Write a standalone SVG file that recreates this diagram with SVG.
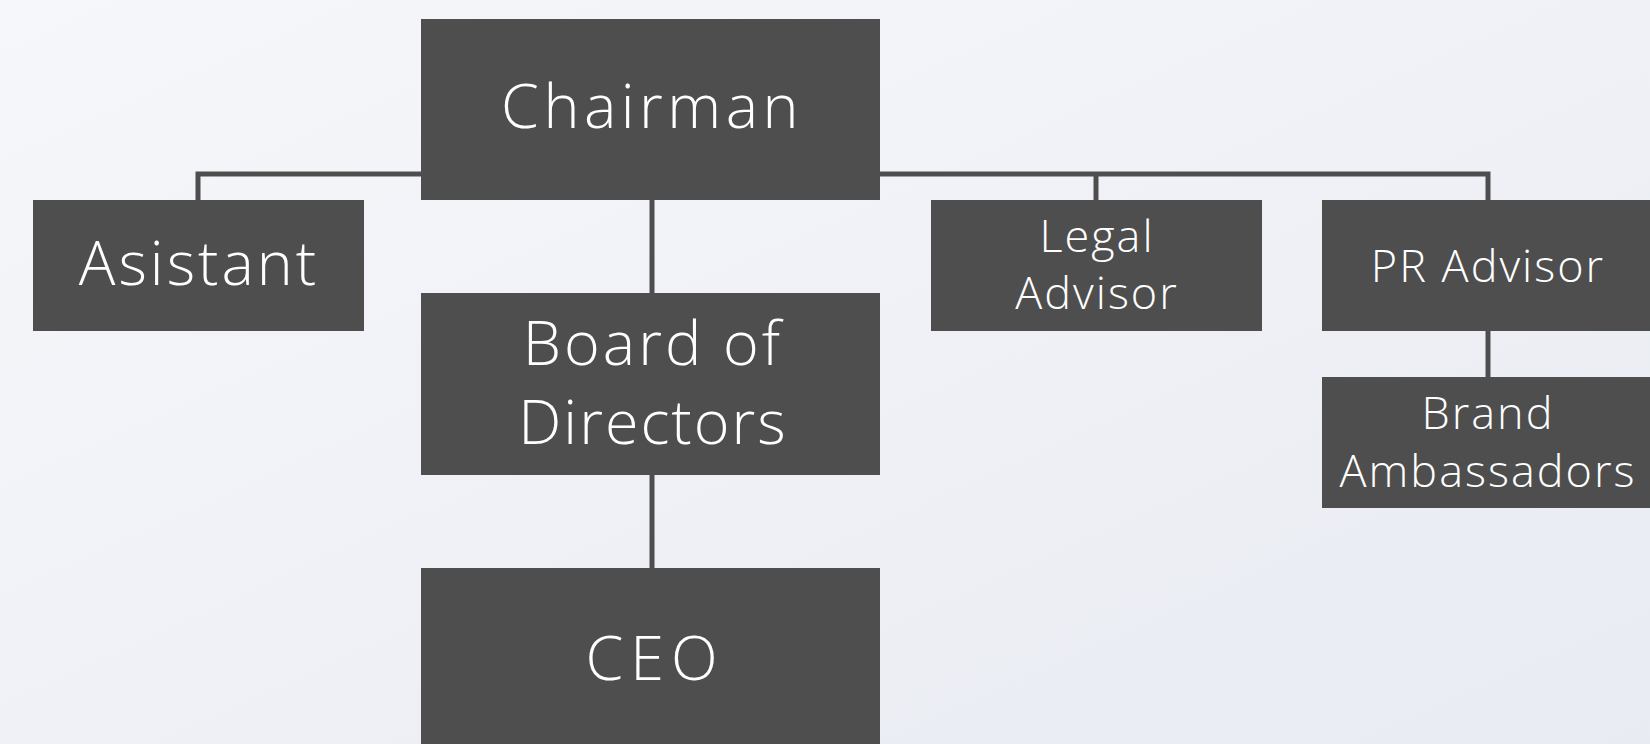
<svg xmlns="http://www.w3.org/2000/svg" width="1650" height="744" viewBox="0 0 1650 744">
<defs>
<linearGradient id="bg" x1="0" y1="0" x2="1" y2="1">
<stop offset="0" stop-color="#f5f7fa"/>
<stop offset="0.5" stop-color="#eff1f7"/>
<stop offset="1" stop-color="#e9ebf2"/>
</linearGradient>
<style>
.box{fill:#4e4e4e}
.lbl{fill:#ffffff;font-family:"Open Sans","Noto Sans",sans-serif;font-weight:300;text-anchor:middle}
.big{font-size:61px}
.sm{font-size:45px;letter-spacing:2px}
.con{stroke:#4e4e4e;stroke-width:5;fill:none}
</style>
</defs>
<rect width="1650" height="744" fill="url(#bg)"/>
<g id="connectors">
<path class="con" d="M198,202 V174 H1488 V202"/>
<path class="con" d="M1096,174 V202"/>
<path class="con" d="M652,198 V295"/>
<path class="con" d="M652,473 V570"/>
<path class="con" d="M1488,329 V379"/>
</g>
<g id="chairman"><rect class="box" x="421" y="19" width="459" height="181"/><text class="lbl big" x="652" y="128" letter-spacing="4.5">Chairman</text></g>
<g id="asistant"><rect class="box" x="33" y="200" width="331" height="131"/><text class="lbl big" x="199" y="285" letter-spacing="3">Asistant</text></g>
<g id="board"><rect class="box" x="421" y="293" width="459" height="182"/><text class="lbl big" x="653" y="365" letter-spacing="3">Board of</text><text class="lbl big" x="653" y="444" letter-spacing="2">Directors</text></g>
<g id="ceo"><rect class="box" x="421" y="568" width="459" height="176"/><text class="lbl big" x="655" y="680" letter-spacing="7">CEO</text></g>
<g id="legal"><rect class="box" x="931" y="200" width="331" height="131"/><text class="lbl sm" x="1097" y="252">Legal</text><text class="lbl sm" x="1097" y="309">Advisor</text></g>
<g id="pr"><rect class="box" x="1322" y="200" width="328" height="131"/><text class="lbl sm" x="1488" y="282">PR Advisor</text></g>
<g id="brand"><rect class="box" x="1322" y="377" width="328" height="131"/><text class="lbl sm" x="1488" y="429">Brand</text><text class="lbl sm" x="1488" y="487">Ambassadors</text></g>
</svg>
